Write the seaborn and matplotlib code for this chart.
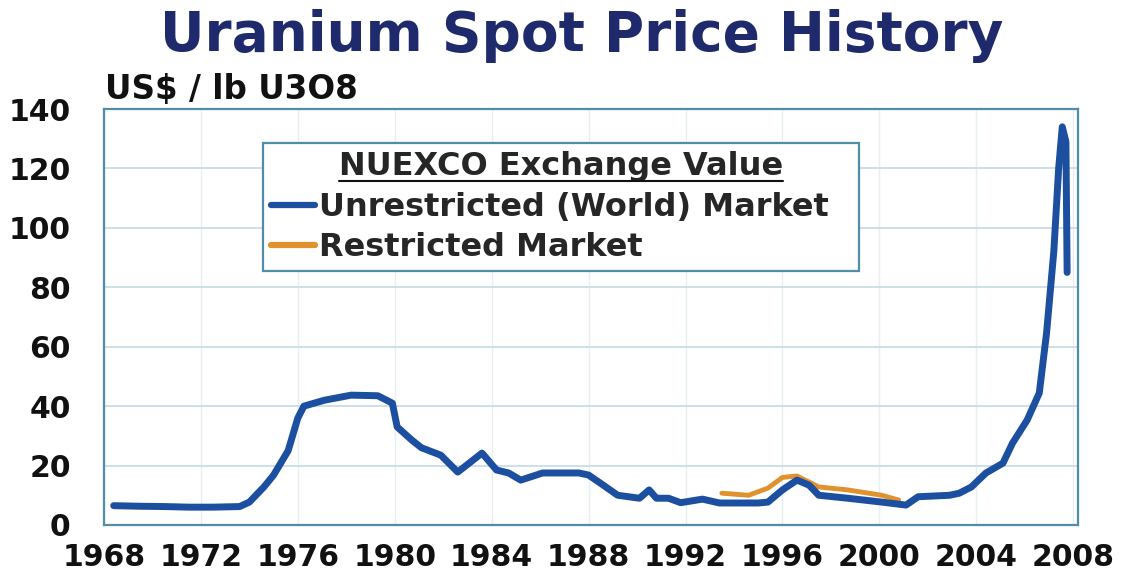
import matplotlib
matplotlib.use("Agg")
import matplotlib.pyplot as plt
from matplotlib.lines import Line2D
from matplotlib.transforms import IdentityTransform
import numpy as np
import pandas as pd
import seaborn as sns

# NUEXCO exchange value, unrestricted (world) market, US$/lb U3O8
world_years = [1968.4, 1969.5, 1970.5, 1971.5, 1972.5, 1973.6, 1974.0, 1974.6, 1975.0,
               1975.6, 1976.0, 1976.25, 1977.1, 1978.2, 1979.3, 1979.9, 1980.1, 1980.7,
               1981.1, 1981.9, 1982.6, 1983.6, 1984.2, 1984.7, 1985.2, 1986.1, 1987.6,
               1988.0, 1988.5, 1989.2, 1990.1, 1990.5, 1990.8, 1991.3, 1991.8, 1992.7,
               1993.4, 1995.0, 1995.4, 1996.0, 1996.6, 1997.1, 1997.5, 1998.7, 2000.1,
               2001.1, 2001.6, 2002.9, 2003.3, 2003.8, 2004.4, 2005.1, 2005.5, 2006.1,
               2006.6, 2006.9, 2007.2, 2007.4, 2007.55, 2007.7, 2007.75]
world_price = [6.5, 6.3, 6.2, 6.0, 6.0, 6.2, 7.7, 12.8, 16.8,
               25.0, 36.0, 40.0, 42.0, 43.7, 43.5, 41.0, 33.0, 28.6,
               26.0, 23.5, 17.8, 24.2, 18.5, 17.5, 15.1, 17.5, 17.5,
               16.8, 14.0, 10.0, 9.0, 11.8, 9.0, 9.0, 7.5, 8.7,
               7.4, 7.4, 7.7, 11.8, 15.1, 13.4, 10.0, 9.0, 7.7,
               6.7, 9.5, 10.0, 10.7, 12.8, 17.5, 20.8, 27.6, 35.3,
               44.4, 64.5, 92.0, 120.0, 134.0, 129.0, 85.0]

# restricted market
restricted_years = [1993.5, 1994.6, 1995.4, 1996.0, 1996.6, 1997.5, 1998.7, 2000.1, 2000.8]
restricted_price = [10.7, 10.0, 12.4, 16.0, 16.5, 12.8, 11.8, 10.0, 8.4]

x_ticks = list(range(1968, 2009, 4))
y_ticks = list(range(0, 141, 20))

blue = "#1c4fa0"
orange = "#e0922e"
frame = "#4f8ea6"

df = pd.concat([
    pd.DataFrame({"year": world_years, "price": world_price,
                  "market": "Unrestricted (World) Market"}),
    pd.DataFrame({"year": restricted_years, "price": restricted_price,
                  "market": "Restricted Market"}),
])

sns.set_theme(style="white")
plt.rcParams["font.family"] = ["DejaVu Sans"]
plt.rcParams["font.weight"] = "bold"

fig = plt.figure(figsize=(11.28, 5.79), dpi=100)
ax = fig.add_axes([0.0922, 0.0933, 0.8635, 0.7184])

sns.lineplot(data=df[df.market == "Restricted Market"], x="year", y="price",
             color=orange, lw=3.5, estimator=None, ax=ax, legend=False)
sns.lineplot(data=df[df.market != "Restricted Market"], x="year", y="price",
             color=blue, lw=5, estimator=None, ax=ax, legend=False)

ax.set_xlim(1968, 2008.2)
ax.set_ylim(0, 140)
ax.set_xticks(x_ticks)
ax.set_yticks(y_ticks)
ax.set_xlabel("")
ax.set_ylabel("")
ax.tick_params(axis="both", length=0, labelsize=21.5)
ax.tick_params(axis="x", pad=13)
ax.tick_params(axis="y", pad=24)
for lab in ax.get_xticklabels() + ax.get_yticklabels():
    lab.set_fontweight("bold")
    lab.set_color("#111111")

ax.yaxis.grid(True, color="#c8dde8", lw=1.3)
ax.xaxis.grid(True, color="#e8eff3", lw=1.0)
ax.set_axisbelow(True)
for s in ax.spines.values():
    s.set_visible(True)
    s.set_color(frame)
    s.set_linewidth(1.6)

handles = [Line2D([], [], color=blue, lw=4.5), Line2D([], [], color=orange, lw=4.5)]
leg = ax.legend(handles, ["Unrestricted (World) Market  ", "Restricted Market"],
                title="NUEXCO Exchange Value", loc="upper left",
                bbox_to_anchor=(0.163, 0.918), borderaxespad=0,
                fontsize=23, title_fontsize=23, handlelength=1.4,
                handletextpad=0.1, borderpad=0.25, labelspacing=0.3,
                fancybox=False, framealpha=1, edgecolor=frame)
leg.get_frame().set_linewidth(1.6)
leg.get_title().set_fontweight("bold")
for t in leg.get_texts():
    t.set_fontweight("bold")

fig.text(0.516, 0.937, "Uranium Spot Price History", ha="center", va="center",
         fontsize=39.5, fontweight="bold", color="#1f2a6c")
fig.text(0.093, 0.846, "US$ / lb U3O8", ha="left", va="center",
         fontsize=23.5, fontweight="bold", color="#111111")

# underline the legend title
fig.canvas.draw()
bb = leg.get_title().get_window_extent()
fig.add_artist(Line2D([bb.x0, bb.x1], [bb.y0 + 1, bb.y0 + 1], color="#111111",
                      lw=1.5, transform=IdentityTransform()))

fig.savefig("out.png", dpi=100)
